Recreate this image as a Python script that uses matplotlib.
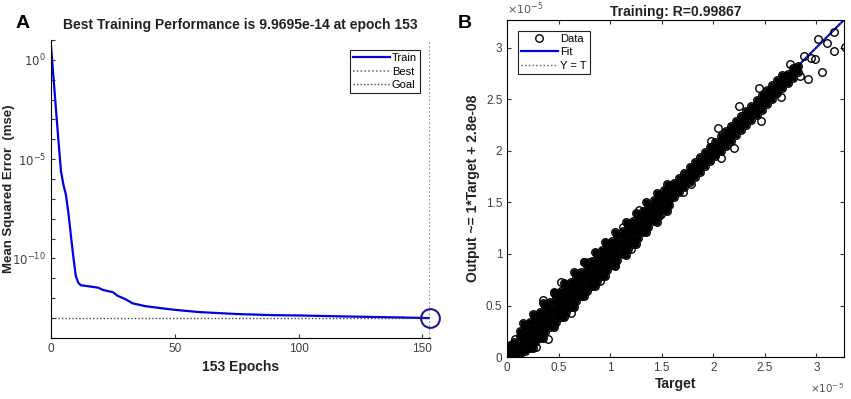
import matplotlib
matplotlib.use("Agg")
import matplotlib.pyplot as plt
import numpy as np

plt.rcParams["font.family"] = ["Liberation Sans", "DejaVu Sans"]

# ---- panel A: training performance
epochs = [0, 1, 2, 3, 4, 5, 6, 7, 8, 9, 10, 11, 12, 15, 19, 21, 25, 27, 30, 33,
          38, 44, 50, 60, 75, 90, 101, 120, 140, 153]
mse = [4.5, 1.2e-1, 3e-3, 8e-5, 2.5e-6, 5e-7, 1.6e-7, 2e-8, 1.5e-9, 1.2e-10,
       1.3e-11, 6e-12, 4.5e-12, 4e-12, 3.4e-12, 2.6e-12, 2e-12, 1.3e-12, 9e-13, 5.5e-13,
       4e-13, 3.2e-13, 2.6e-13, 2e-13, 1.6e-13, 1.4e-13, 1.35e-13, 1.2e-13, 1.08e-13, 9.9695e-14]
best_epoch = 153
best_mse = 9.9695e-14

# ---- panel B: regression (target vs output), units of 1e-5
# cluster at the origin
target_origin = [0.02, 0.05, 0.07, 0.08, 0.06, 0.03, 0.09, 0.10, 0.04, 0.07, 0.01, 0.09]
output_origin = [0.01, 0.03, 0.00, 0.06, 0.10, 0.12, 0.13, 0.03, 0.06, 0.15, 0.04, 0.08]

# dense band, lower part
target_low = [0.12, 0.12, 0.12, 0.12, 0.12, 0.17, 0.17, 0.17, 0.17, 0.17,
              0.22, 0.22, 0.22, 0.22, 0.22, 0.27, 0.27, 0.27, 0.27, 0.27,
              0.32, 0.32, 0.32, 0.32, 0.32, 0.37, 0.37, 0.37, 0.37, 0.37,
              0.42, 0.42, 0.42, 0.42, 0.42, 0.47, 0.47, 0.47, 0.47, 0.47,
              0.52, 0.52, 0.52, 0.52, 0.52, 0.57, 0.57, 0.57, 0.57, 0.57,
              0.62, 0.62, 0.62, 0.62, 0.62, 0.67, 0.67, 0.67, 0.67, 0.67,
              0.72, 0.72, 0.72, 0.72, 0.72, 0.77, 0.77, 0.77, 0.77, 0.77,
              0.82, 0.82, 0.82, 0.82, 0.82, 0.87, 0.87, 0.87, 0.87, 0.87,
              0.92, 0.92, 0.92, 0.92, 0.92, 0.97, 0.97, 0.97, 0.97, 0.97,
              1.02, 1.02, 1.02, 1.02, 1.02, 1.07, 1.07, 1.07, 1.07, 1.07,
              1.12, 1.12, 1.12, 1.12, 1.12, 1.17, 1.17, 1.17, 1.17, 1.17,
              1.22, 1.22, 1.22, 1.22, 1.22, 1.27, 1.27, 1.27, 1.27, 1.27,
              1.32, 1.32, 1.32, 1.32, 1.32, 1.37, 1.37, 1.37, 1.37, 1.37,
              1.42, 1.42, 1.42, 1.42, 1.42, 1.47, 1.47, 1.47, 1.47, 1.47,
              1.52, 1.52, 1.52, 1.52, 1.52, 1.57, 1.57, 1.57, 1.57, 1.57]
output_low = [0.03, 0.09, 0.14, 0.20, 0.25, 0.06, 0.12, 0.18, 0.23, 0.29,
              0.10, 0.16, 0.21, 0.28, 0.34, 0.15, 0.20, 0.27, 0.33, 0.39,
              0.19, 0.25, 0.31, 0.38, 0.44, 0.24, 0.30, 0.36, 0.42, 0.49,
              0.29, 0.35, 0.41, 0.47, 0.53, 0.34, 0.40, 0.46, 0.52, 0.58,
              0.39, 0.45, 0.51, 0.57, 0.64, 0.44, 0.50, 0.56, 0.62, 0.69,
              0.49, 0.55, 0.61, 0.67, 0.73, 0.54, 0.60, 0.66, 0.72, 0.78,
              0.59, 0.65, 0.71, 0.77, 0.83, 0.64, 0.70, 0.76, 0.82, 0.88,
              0.69, 0.75, 0.81, 0.87, 0.93, 0.74, 0.80, 0.86, 0.92, 0.99,
              0.79, 0.85, 0.91, 0.97, 1.04, 0.84, 0.90, 0.96, 1.02, 1.09,
              0.89, 0.95, 1.01, 1.07, 1.13, 0.94, 1.00, 1.06, 1.12, 1.18,
              1.00, 1.05, 1.11, 1.17, 1.22, 1.05, 1.10, 1.16, 1.22, 1.27,
              1.10, 1.15, 1.21, 1.27, 1.32, 1.16, 1.21, 1.26, 1.32, 1.37,
              1.21, 1.26, 1.31, 1.37, 1.42, 1.26, 1.31, 1.36, 1.42, 1.47,
              1.32, 1.37, 1.41, 1.47, 1.52, 1.37, 1.42, 1.46, 1.52, 1.57,
              1.43, 1.47, 1.52, 1.57, 1.62, 1.48, 1.52, 1.57, 1.62, 1.66]

# outer rim of the lower band
target_rim = [0.15, 0.25, 0.35, 0.45, 0.55, 0.65, 0.75, 0.85, 0.95, 1.05, 1.15, 1.25, 1.35, 1.45, 1.55,
              0.25, 0.35, 0.45, 0.55, 0.65, 0.75, 0.85, 0.95, 1.05, 1.15, 1.25, 1.35, 1.45, 1.55]
output_rim = [0.33, 0.42, 0.52, 0.63, 0.72, 0.83, 0.92, 1.02, 1.12, 1.21, 1.31, 1.40, 1.50, 1.59, 1.68,
              0.09, 0.19, 0.29, 0.39, 0.49, 0.59, 0.69, 0.79, 0.89, 0.99, 1.10, 1.21, 1.31, 1.42]

# dense band, upper part
target_high = [1.62, 1.62, 1.62, 1.62, 1.67, 1.67, 1.67, 1.67, 1.72, 1.72, 1.72, 1.72,
               1.77, 1.77, 1.77, 1.77, 1.82, 1.82, 1.82, 1.82, 1.87, 1.87, 1.87, 1.87,
               1.92, 1.92, 1.92, 1.92, 1.97, 1.97, 1.97, 1.97, 2.02, 2.02, 2.02, 2.02,
               2.07, 2.07, 2.07, 2.07, 2.12, 2.12, 2.12, 2.12, 2.17, 2.17, 2.17, 2.17,
               2.22, 2.22, 2.22, 2.22, 2.27, 2.27, 2.27, 2.27, 2.32, 2.32, 2.32, 2.32,
               2.37, 2.37, 2.37, 2.37, 2.42, 2.42, 2.42, 2.42, 2.47, 2.47, 2.47, 2.47,
               2.52, 2.52, 2.52, 2.52, 2.57, 2.57, 2.57, 2.57, 2.62, 2.62, 2.62, 2.62,
               2.67, 2.67, 2.67, 2.67, 2.72, 2.72, 2.72, 2.77, 2.77, 2.77, 2.82, 2.82]
output_high = [1.55, 1.60, 1.64, 1.69, 1.60, 1.65, 1.69, 1.74, 1.65, 1.70, 1.74, 1.79,
               1.70, 1.75, 1.79, 1.84, 1.75, 1.80, 1.84, 1.89, 1.80, 1.85, 1.89, 1.94,
               1.85, 1.90, 1.94, 1.99, 1.90, 1.95, 1.99, 2.04, 1.95, 2.00, 2.05, 2.09,
               2.00, 2.05, 2.10, 2.14, 2.05, 2.10, 2.15, 2.19, 2.10, 2.15, 2.20, 2.24,
               2.15, 2.20, 2.25, 2.29, 2.20, 2.25, 2.30, 2.34, 2.25, 2.30, 2.35, 2.39,
               2.30, 2.35, 2.40, 2.44, 2.35, 2.40, 2.45, 2.49, 2.40, 2.45, 2.50, 2.54,
               2.45, 2.50, 2.55, 2.59, 2.50, 2.55, 2.60, 2.64, 2.56, 2.60, 2.65, 2.69,
               2.61, 2.65, 2.70, 2.74, 2.66, 2.71, 2.75, 2.71, 2.76, 2.80, 2.77, 2.82]

# stray points at the edges of the band
target_stray = [0.08, 0.35, 0.52, 0.79, 0.97, 1.12, 1.20, 0.40, 0.22, 0.28,
                2.05, 1.98, 2.25, 2.44, 2.20, 2.07, 2.46, 2.66, 2.92, 3.05,
                1.78, 1.71, 1.49, 2.61, 2.84, 2.99, 3.02, 3.17, 3.17, 3.28,
                2.95, 3.10, 2.88, 2.74, 0.62, 0.75, 0.90, 0.45, 1.05, 1.28]
output_stray = [0.18, 0.55, 0.73, 0.92, 1.11, 1.26, 1.05, 0.18, 0.09, 0.10,
                2.22, 2.10, 2.44, 2.61, 2.03, 1.93, 2.29, 2.52, 2.70, 2.77,
                1.68, 1.60, 1.39, 2.58, 2.73, 2.89, 3.09, 3.15, 2.97, 3.01,
                2.90, 3.05, 2.92, 2.84, 0.43, 0.92, 0.74, 0.62, 0.88, 1.43]

fit_slope = 1.0
fit_offset = 0.0028
ax_max = 3.27
R = 0.99867

tick_col = "#404040"

fig = plt.figure(figsize=(8.51, 3.99), dpi=100)

# ---------------- A
ax1 = fig.add_axes([0.060, 0.153, 0.445, 0.747])
ax1.semilogy(epochs, mse, color="#0000e6", lw=1.6, label="Train")
ax1.axvline(best_epoch, color="#666666", ls=(0, (1, 1.5)), lw=1.1, label="Best")
ax1.axhline(best_mse, color="#444444", ls=(0, (1, 1.5)), lw=1.0, label="Goal")
ax1.plot([best_epoch], [best_mse], "o", mfc="none", mec="#1a1a90", mew=1.5, ms=13.5, clip_on=False)
ax1.set_xlim(0, 153)
ax1.set_ylim(1e-14, 1e1)
ax1.spines["top"].set_visible(False)
ax1.spines["right"].set_visible(False)
decades = [10.0 ** k for k in range(-14, 2)]
ax1.set_yticks(decades)
ax1.set_yticklabels(["$10^{%d}$" % k if k in (0, -5, -10) else "" for k in range(-14, 2)])
ax1.minorticks_off()
ax1.set_xticks([0, 50, 100, 150])
ax1.tick_params(direction="in", length=3, labelsize=8.5, colors="#333333", labelcolor=tick_col)
ax1.set_xlabel("153 Epochs", fontsize=10, fontweight="bold", color="#222222")
ax1.set_ylabel("Mean Squared Error  (mse)", fontsize=9.5, fontweight="bold", color="#222222")
ax1.yaxis.set_label_coords(-0.095, 0.5)
ax1.set_title("Best Training Performance is 9.9695e-14 at epoch 153", fontsize=10,
              fontweight="bold", color="#222222", pad=8)
leg1 = ax1.legend(loc="upper right", bbox_to_anchor=(0.99, 0.985), fontsize=8,
                  handlelength=3.3, fancybox=False, edgecolor="#222222", framealpha=1,
                  borderpad=0.3, labelspacing=0.3, handletextpad=0.2)
leg1.get_frame().set_linewidth(0.8)
fig.text(0.018, 0.93, "A", fontsize=14, fontweight="bold")

# ---------------- B
ax2 = fig.add_axes([0.596, 0.105, 0.396, 0.845])
band_t = target_origin + target_low + target_rim + target_high
band_o = output_origin + output_low + output_rim + output_high
all_t = band_t + target_stray
all_o = band_o + output_stray
line_x = np.array([0, ax_max])
ax2.plot(line_x, fit_slope * line_x + fit_offset, color="#0000e6", lw=1.6, label="Fit", zorder=1)
ax2.plot(line_x, line_x, color="#555555", ls=":", lw=1.0, label="Y = T", zorder=1)
# dense core: points overlap into a solid band
ax2.plot(band_t, band_o, "o", color="black", ms=4.6, mew=0, zorder=2)
ax2.plot(all_t, all_o, "o", mfc="none", mec="black", mew=1.0, ms=5.4, label="Data", zorder=3)
ax2.set_xlim(0, ax_max)
ax2.set_ylim(0, ax_max)
ticks = [0, 0.5, 1, 1.5, 2, 2.5, 3]
tick_labels = ["0", "0.5", "1", "1.5", "2", "2.5", "3"]
ax2.set_xticks(ticks)
ax2.set_yticks(ticks)
ax2.set_xticklabels(tick_labels)
ax2.set_yticklabels(tick_labels)
ax2.tick_params(direction="in", length=3, labelsize=8.5, top=True, right=True,
                colors="#333333", labelcolor=tick_col)
ax2.set_xlabel("Target", fontsize=10, fontweight="bold", color="#222222", labelpad=2)
ax2.set_ylabel("Output ~= 1*Target + 2.8e-08", fontsize=10, fontweight="bold", color="#222222")
ax2.set_title("Training: R=%.5f" % R, fontsize=10, fontweight="bold", color="#222222", pad=3)
ax2.text(0.0, 1.01, r"$\times10^{-5}$", transform=ax2.transAxes, fontsize=8,
         color="#555555", va="bottom", ha="left")
ax2.text(1.0, -0.07, r"$\times10^{-5}$", transform=ax2.transAxes, fontsize=7.5,
         color="#555555", va="top", ha="right")
handles, labels = ax2.get_legend_handles_labels()
order = [labels.index("Data"), labels.index("Fit"), labels.index("Y = T")]
leg2 = ax2.legend([handles[i] for i in order], [labels[i] for i in order],
                  loc="upper left", bbox_to_anchor=(0.015, 0.985), fontsize=8,
                  handlelength=3.3, fancybox=False, edgecolor="#222222", framealpha=1,
                  borderpad=0.3, labelspacing=0.3, handletextpad=0.2)
leg2.get_frame().set_linewidth(0.8)
fig.text(0.538, 0.93, "B", fontsize=14, fontweight="bold")

fig.savefig("out.png", dpi=100)
